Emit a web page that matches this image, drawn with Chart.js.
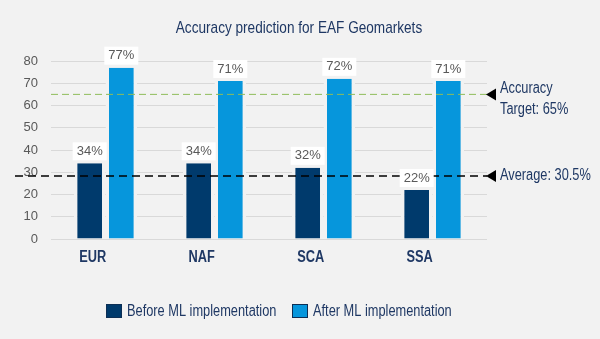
<!DOCTYPE html>
<html lang="en">
<head>
    <meta charset="UTF-8">
    <title>Accuracy prediction for EAF Geomarkets</title>
    <script src="https://cdn.jsdelivr.net/npm/chart.js"></script>
    <style>
        html, body { margin: 0; padding: 0; background: #f2f2f2; }
        #wrap { width: 600px; height: 339px; }
    </style>
</head>
<body>
    <div id="wrap"><canvas id="accChart"></canvas></div>

    <script>
        const regions = ["EUR", "NAF", "SCA", "SSA"];
        const beforeML = [34, 34, 32, 22];
        const afterML = [77, 71, 72, 71];
        const yTicks = [0, 10, 20, 30, 40, 50, 60, 70, 80];
        const targetValue = 65;
        const averageLineValue = 28.3;
        const targetText = ["Accuracy", "Target: 65%"];
        const averageText = "Average: 30.5%";

        const BG = '#f2f2f2';
        const NAVY = '#003a6c';
        const BLUE = '#0696dc';
        const TEXT = '#1f3864';
        const SANS = '"Liberation Sans", Arial, sans-serif';

        // the original uses a condensed face; squeeze Liberation Sans horizontally
        function narrowText(ctx, text, x, y, align, squeeze) {
            ctx.save();
            ctx.translate(x, y);
            ctx.scale(squeeze, 1);
            ctx.textAlign = align;
            ctx.fillText(text, 0, 0);
            ctx.restore();
        }

        const extras = {
            id: 'extras',
            afterDraw(chart) {
                const ctx = chart.ctx;
                const y = chart.scales.y;
                const area = chart.chartArea;
                ctx.save();
                ctx.textBaseline = 'middle';

                // title
                ctx.fillStyle = TEXT;
                ctx.font = '17px ' + SANS;
                narrowText(ctx, "Accuracy prediction for EAF Geomarkets", 299, 28, 'center', 0.8);

                // reference lines
                const ty = y.getPixelForValue(targetValue);
                ctx.strokeStyle = '#8fbc5a';
                ctx.lineWidth = 1;
                ctx.setLineDash([7, 4]);
                ctx.beginPath();
                ctx.moveTo(area.left, ty);
                ctx.lineTo(area.right, ty);
                ctx.stroke();

                const ay = y.getPixelForValue(averageLineValue);
                ctx.strokeStyle = '#000';
                ctx.lineWidth = 1.5;
                ctx.setLineDash([8, 5]);
                ctx.beginPath();
                ctx.moveTo(15, ay);
                ctx.lineTo(area.right, ay);
                ctx.stroke();
                ctx.setLineDash([]);

                // arrows + notes
                [ty, ay].forEach(py => {
                    ctx.fillStyle = '#000';
                    ctx.beginPath();
                    ctx.moveTo(486, py);
                    ctx.lineTo(496, py - 6);
                    ctx.lineTo(496, py + 6);
                    ctx.closePath();
                    ctx.fill();
                });
                ctx.fillStyle = TEXT;
                ctx.font = '16px ' + SANS;
                narrowText(ctx, targetText[0], 500, ty - 6, 'left', 0.8);
                narrowText(ctx, targetText[1], 500, ty + 15, 'left', 0.8);
                narrowText(ctx, averageText, 500, ay, 'left', 0.8);

                // data labels
                ctx.font = '13px ' + SANS;
                ctx.textAlign = 'center';
                chart.data.datasets.forEach((ds, i) => {
                    chart.getDatasetMeta(i).data.forEach((bar, j) => {
                        const txt = ds.data[j] + '%';
                        const cy = bar.y - 12;
                        const w = ctx.measureText(txt).width + 8;
                        ctx.fillStyle = '#fff';
                        ctx.fillRect(bar.x - w / 2, cy - 9, w, 18);
                        ctx.fillStyle = '#595959';
                        ctx.fillText(txt, bar.x, cy);
                    });
                });

                // category labels
                ctx.font = 'bold 16px ' + SANS;
                ctx.fillStyle = TEXT;
                chart.getDatasetMeta(0).data.forEach((bar, j) => {
                    narrowText(ctx, regions[j], bar.x + 3, 258, 'center', 0.8);
                });

                // legend
                const items = [["Before ML implementation", NAVY, 106], ["After ML implementation", BLUE, 292]];
                ctx.font = '16px ' + SANS;
                items.forEach(([label, color, x]) => {
                    ctx.fillStyle = color;
                    ctx.fillRect(x, 304, 16, 14);
                    ctx.strokeStyle = '#0d2f55';
                    ctx.lineWidth = 1;
                    ctx.strokeRect(x + 0.5, 304.5, 15, 13);
                    ctx.fillStyle = TEXT;
                    narrowText(ctx, label, x + 21, 312, 'left', 0.8);
                });

                ctx.restore();
            }
        };

        new Chart(document.getElementById('accChart'), {
            type: 'bar',
            data: {
                labels: regions,
                datasets: [
                    {
                        label: 'Before ML implementation',
                        data: beforeML,
                        backgroundColor: NAVY,
                        borderColor: BG,
                        borderWidth: { left: 3.5, right: 3.5, top: 0, bottom: 0 },
                        borderSkipped: false
                    },
                    {
                        label: 'After ML implementation',
                        data: afterML,
                        backgroundColor: BLUE,
                        borderColor: BG,
                        borderWidth: { left: 3.5, right: 3.5, top: 0, bottom: 0 },
                        borderSkipped: false
                    }
                ]
            },
            options: {
                responsive: true,
                maintainAspectRatio: false,
                animation: false,
                categoryPercentage: 0.58,
                barPercentage: 1,
                layout: { padding: { top: 61, right: 113, bottom: 100, left: 0 } },
                plugins: { legend: { display: false }, title: { display: false }, tooltip: { enabled: false } },
                scales: {
                    x: {
                        afterFit: axis => { axis.height = 0; },
                        grid: { display: false },
                        border: { display: false },
                        ticks: { display: false }
                    },
                    y: {
                        min: 0,
                        max: 80,
                        afterBuildTicks: axis => { axis.ticks = yTicks.map(v => ({ value: v })); },
                        afterFit: axis => { axis.width = 51; },
                        grid: { color: '#d9d9d9', drawTicks: false },
                        border: { display: false },
                        ticks: {
                            padding: 13,
                            color: '#595959',
                            font: { family: SANS, size: 13 }
                        }
                    }
                }
            },
            plugins: [extras]
        });
    </script>
</body>
</html>
